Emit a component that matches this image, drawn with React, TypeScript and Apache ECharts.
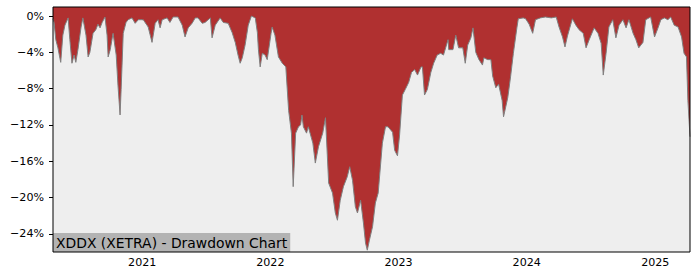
import React, { useEffect, useRef } from "react";
import * as echarts from "echarts";

const dates: string[] = [
  "2020-04-22","2020-04-25","2020-04-30","2020-05-06","2020-05-14","2020-05-20","2020-05-26","2020-06-04","2020-06-09","2020-06-15",
  "2020-06-21","2020-06-26","2020-07-02","2020-07-11","2020-07-16","2020-07-25","2020-07-31","2020-08-05","2020-08-14","2020-08-22",
  "2020-08-28","2020-09-03","2020-09-09","2020-09-17","2020-09-23","2020-09-26","2020-10-02","2020-10-10","2020-10-19","2020-10-24",
  "2020-10-30","2020-11-02","2020-11-08","2020-11-16","2020-11-22","2020-12-03","2020-12-12","2020-12-21","2021-01-04","2021-01-18",
  "2021-01-29","2021-02-07","2021-02-15","2021-02-21","2021-02-27","2021-03-13","2021-03-21","2021-03-30","2021-04-13","2021-04-25",
  "2021-05-03","2021-05-12","2021-05-23","2021-06-01","2021-06-09","2021-06-21","2021-06-29","2021-07-14","2021-07-19","2021-07-28",
  "2021-08-11","2021-08-20","2021-09-03","2021-09-14","2021-09-23","2021-10-01","2021-10-07","2021-10-13","2021-10-21","2021-10-30",
  "2021-11-08","2021-11-19","2021-11-25","2021-11-28","2021-12-03","2021-12-09","2021-12-17","2021-12-23","2022-01-03","2022-01-06",
  "2022-01-14","2022-01-24","2022-02-04","2022-02-14","2022-02-22","2022-03-02","2022-03-07","2022-03-14","2022-03-22","2022-03-28",
  "2022-04-01","2022-04-05","2022-04-14","2022-04-19","2022-05-02","2022-05-09","2022-05-18","2022-05-30","2022-06-07","2022-06-16",
  "2022-06-27","2022-07-05","2022-07-11","2022-07-19","2022-07-28","2022-08-08","2022-08-15","2022-08-23","2022-08-31","2022-09-06",
  "2022-09-15","2022-09-23","2022-09-29","2022-10-04","2022-10-10","2022-10-19","2022-10-27","2022-11-04","2022-11-16","2022-11-25",
  "2022-12-02","2022-12-15","2022-12-21","2022-12-29","2023-01-04","2023-01-12","2023-01-20","2023-01-30","2023-02-07","2023-02-16",
  "2023-02-24","2023-03-06","2023-03-10","2023-03-16","2023-03-24","2023-04-03","2023-04-11","2023-04-21","2023-05-01","2023-05-09",
  "2023-05-22","2023-05-24","2023-06-05","2023-06-13","2023-06-21","2023-07-03","2023-07-10","2023-07-17","2023-07-26","2023-08-01",
  "2023-08-09","2023-08-18","2023-08-28","2023-09-01","2023-09-12","2023-09-21","2023-09-26","2023-10-05","2023-10-13","2023-10-23",
  "2023-10-27","2023-11-08","2023-11-16","2023-11-24","2023-12-04","2023-12-08","2023-12-22","2023-12-29","2024-01-08","2024-01-18",
  "2024-01-26","2024-02-09","2024-02-23","2024-03-11","2024-03-25","2024-04-02","2024-04-12","2024-04-19","2024-04-26","2024-05-10",
  "2024-05-20","2024-05-29","2024-06-10","2024-06-18","2024-06-27","2024-07-11","2024-07-22","2024-07-31","2024-08-06","2024-08-14",
  "2024-08-22","2024-09-02","2024-09-11","2024-09-20","2024-10-01","2024-10-10","2024-10-18","2024-10-30","2024-11-07","2024-11-15",
  "2024-11-27","2024-12-05","2024-12-19","2024-12-30","2025-01-09","2025-01-17","2025-01-27","2025-02-06","2025-02-14","2025-02-24",
  "2025-03-07","2025-03-17","2025-03-24","2025-03-31","2025-04-04","2025-04-10",
];

const drawdown: number[] = [
  -0.3,-0.7,-2.6,-3.5,-5.1,-2.1,-1.0,-0.2,-2.6,-5.2,
  -4.3,-5.1,-3.7,-1.2,-0.2,-2.1,-4.5,-4.0,-1.9,-1.5,
  -0.9,-1.3,-0.7,-0.1,-2.1,-4.5,-3.7,-1.9,-4.3,-7.6,
  -10.9,-8.1,-1.9,-0.7,-0.4,-0.2,-0.8,-0.4,-0.4,-1.2,
  -2.9,-0.8,-0.4,-1.3,-0.4,-0.2,-0.7,-0.1,-0.1,-1.0,
  -2.3,-1.3,-0.8,-0.2,-0.2,-0.8,-0.7,-0.2,-2.4,-1.0,
  -0.2,-0.7,-0.8,-1.8,-2.9,-4.3,-5.2,-4.6,-3.2,-1.0,
  0,-0.2,-1.8,-3.7,-5.6,-4.1,-4.3,-4.8,-1.9,-1.2,
  -2.1,-4.5,-5.2,-5.6,-10.4,-12.9,-18.8,-12.9,-12.2,-12.0,
  -10.9,-12.2,-12.9,-12.2,-14.0,-16.2,-14.4,-12.9,-11.2,-18.4,
  -19.5,-21.7,-22.5,-20.3,-18.8,-17.7,-16.6,-18.1,-21.0,-21.7,
  -20.3,-22.8,-25.0,-25.8,-24.7,-23.2,-20.6,-19.5,-14.0,-12.2,
  -12.2,-12.8,-14.8,-15.4,-13.1,-8.7,-8.1,-7.3,-6.2,-5.9,
  -6.5,-5.6,-5.6,-8.7,-8.1,-6.2,-5.2,-4.3,-4.1,-4.3,
  -2.6,-3.7,-3.7,-2.1,-3.5,-3.5,-5.2,-3.2,-2.4,-1.3,
  -4.0,-4.8,-5.4,-4.6,-4.8,-4.8,-6.6,-7.9,-7.5,-9.3,
  -11.1,-9.0,-6.7,-4.1,-1.3,-0.3,-0.2,-0.3,-0.9,-1.9,
  -0.4,-0.2,-0.1,-0.2,-0.1,-1.2,-2.3,-3.4,-2.2,-0.3,
  -1.0,-1.5,-1.9,-3.5,-2.6,-1.3,-1.9,-3.0,-6.5,-4.1,
  -1.2,-0.4,-2.4,-1.0,-0.4,-1.3,-0.4,-1.9,-2.6,-3.5,
  -2.9,-0.4,-0.1,-2.3,-1.3,-0.4,-0.2,-0.4,-0.1,-1.0,
  -1.2,-2.3,-4.1,-4.5,-9.3,-13.3,
];

const yTicks: number[] = [0, -4, -8, -12, -16, -20, -24];
const xTickDates: string[] = ["2021-01-01", "2022-01-01", "2023-01-01", "2024-01-01", "2025-01-01"];
const chartTitle = "XDDX (XETRA) - Drawdown Chart";

const ts = (s: string) => {
  const [y, m, d] = s.split("-").map(Number);
  return new Date(y, m - 1, d).getTime();
};

export default function App() {
  const ref = useRef<HTMLDivElement>(null);
  useEffect(() => {
    if (!ref.current) return;
    const chart = echarts.init(ref.current, null, { renderer: "svg" });
    const seriesData = dates.map((d, i) => [ts(d), drawdown[i]]);
    const xMin = ts(dates[0]);
    const xMax = ts(dates[dates.length - 1]);
    const yMin = -26;
    const yMax = 1;
    const xTicks = xTickDates.map(ts);
    const font = "DejaVu Sans";
    chart.setOption({
      animation: false,
      backgroundColor: "#ffffff",
      title: {
        text: chartTitle,
        left: 53,
        top: 233,
        padding: [2, 3, 1, 3],
        backgroundColor: "#b3b3b3",
        textStyle: { fontFamily: font, fontSize: 13.9, fontWeight: "normal", color: "#000", lineHeight: 16 },
        z: 20,
      },
      grid: {
        left: 53, right: 10, top: 7, bottom: 28,
        show: true, backgroundColor: "#eeeeee", borderWidth: 0,
      },
      xAxis: {
        type: "value", min: xMin, max: xMax,
        axisLine: { show: false },
        axisTick: { show: true, length: 4, lineStyle: { color: "#000" }, customValues: xTicks },
        axisLabel: {
          customValues: xTicks, margin: 5, color: "#000", fontFamily: font, fontSize: 11.1, fontWeight: "normal",
          formatter: (v: number) => String(new Date(v).getFullYear()),
        },
        splitLine: { show: false },
      },
      yAxis: {
        type: "value", min: yMin, max: yMax,
        axisLine: { show: false },
        axisTick: { show: true, length: 4, lineStyle: { color: "#000" }, customValues: yTicks },
        axisLabel: {
          customValues: yTicks, margin: 9, color: "#000", fontFamily: font, fontSize: 11.1, fontWeight: "normal",
          formatter: (v: number) => (v === 0 ? "0%" : (v < 0 ? "\u2212" : "") + Math.abs(v) + "%"),
        },
        splitLine: { show: false },
      },
      series: [
        {
          type: "line",
          data: seriesData,
          showSymbol: false,
          symbol: "none",
          lineStyle: { color: "#7f7f7f", width: 1 },
          areaStyle: { color: "#b03030", opacity: 1, origin: "end" },
        },
      ],
    });
    const p0 = chart.convertToPixel({ gridIndex: 0 }, [xMin, yMax]) as number[];
    const p1 = chart.convertToPixel({ gridIndex: 0 }, [xMax, yMin]) as number[];
    chart.setOption({
      graphic: [
        {
          type: "rect",
          z: 100,
          silent: true,
          shape: { x: p0[0], y: p0[1], width: p1[0] - p0[0], height: p1[1] - p0[1] },
          style: { fill: "none", stroke: "#000", lineWidth: 1 },
        },
      ],
    });
    return () => chart.dispose();
  }, []);
  return <div ref={ref} style={{ position: "fixed", left: 0, top: 0, width: 700, height: 280 }} />;
}
